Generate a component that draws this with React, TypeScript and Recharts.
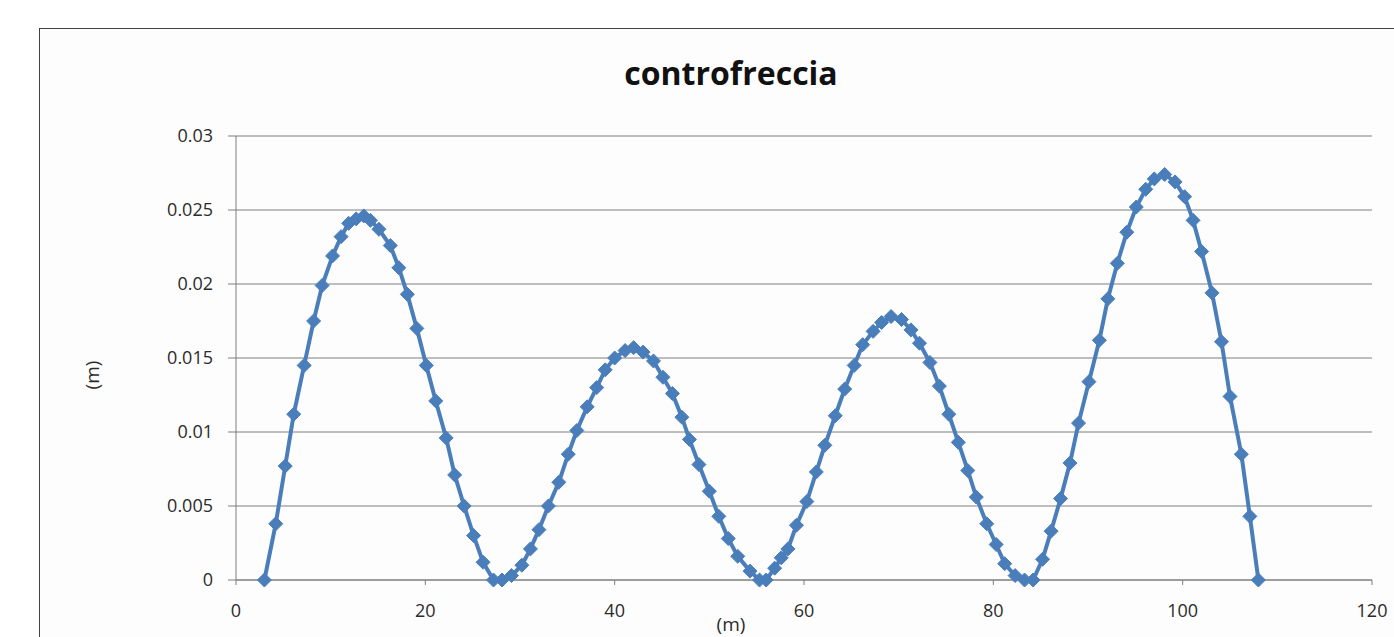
import { LineChart, Line, XAxis, YAxis, CartesianGrid } from 'recharts'

// ── Data ─────────────────────────────────────────────────────────────────────

const xPos = [
  3, 4.2, 5.2, 6.1, 7.2, 8.2, 9.1, 10.2, 11.1, 11.9, 12.7, 13.5, 14.2, 15.1, 16.3, 17.2, 18.1, 19.1, 20.1, 21.1, 22.2, 23.1, 24.1, 25.1, 26.1, 27.2,
  28.1, 29.1, 30.2, 31.1, 32.0, 33.0, 34.1, 35.1, 36.0, 37.1, 38.1, 39.0, 40.0, 41.1, 42.0, 43.0, 44.1, 45.1, 46.1, 47.1, 47.9, 48.9, 50.0, 51.0, 52.0, 53.0, 54.3, 55.3,
  56.0, 56.9, 57.6, 58.3, 59.2, 60.3, 61.3, 62.2, 63.3, 64.3, 65.3, 66.2, 67.3, 68.2, 69.2, 70.3, 71.3, 72.2, 73.3, 74.3, 75.3, 76.3, 77.3, 78.2, 79.3, 80.3, 81.2, 82.3, 83.3,
  84.2, 85.2, 86.1, 87.1, 88.1, 89.0, 90.1, 91.2, 92.1, 93.1, 94.1, 95.1, 96.1, 97.0, 98.1, 99.2, 100.2, 101.1, 102.0, 103.1, 104.1, 105.0, 106.2, 107.1, 108.0,
]

const deflection = [
  0, 0.0038, 0.0077, 0.0112, 0.0145, 0.0175, 0.0199, 0.0219, 0.0232, 0.0241, 0.0244, 0.0246, 0.0243, 0.0237, 0.0226, 0.0211, 0.0193, 0.017, 0.0145, 0.0121, 0.0096, 0.0071, 0.005, 0.003, 0.0012, 0,
  0, 0.0003, 0.001, 0.0021, 0.0034, 0.005, 0.0066, 0.0085, 0.0101, 0.0117, 0.013, 0.0142, 0.015, 0.0155, 0.0157, 0.0154, 0.0148, 0.0137, 0.0126, 0.011, 0.0095, 0.0078, 0.006, 0.0043, 0.0028, 0.0016, 0.0006, 0,
  0, 0.0008, 0.0015, 0.0021, 0.0037, 0.0053, 0.0073, 0.0091, 0.0111, 0.0129, 0.0145, 0.0159, 0.0168, 0.0174, 0.0178, 0.0176, 0.0169, 0.016, 0.0147, 0.0131, 0.0112, 0.0093, 0.0074, 0.0056, 0.0038, 0.0024, 0.0011, 0.0003, 0,
  0, 0.0014, 0.0033, 0.0055, 0.0079, 0.0106, 0.0134, 0.0162, 0.019, 0.0214, 0.0235, 0.0252, 0.0264, 0.0271, 0.0274, 0.0269, 0.0259, 0.0243, 0.0222, 0.0194, 0.0161, 0.0124, 0.0085, 0.0043, 0,
]

const xTicks = [0, 20, 40, 60, 80, 100, 120]
const yTicks = [0, 0.005, 0.01, 0.015, 0.02, 0.025, 0.03]

const data = xPos.map((x, i) => ({ x, y: deflection[i] }))

// ── Styles ───────────────────────────────────────────────────────────────────

const BLUE = '#4A7EBB'
const GRID = '#7f7f7f'
const FONT = '"Open Sans", "DejaVu Sans", sans-serif'
const tickStyle = { fill: '#2b2b2b', fontSize: 18, fontFamily: FONT }

function Diamond(props: { cx?: number; cy?: number; index?: number }) {
  const { cx, cy } = props
  if (cx == null || cy == null) return null
  const r = 7
  return (
    <polygon
      key={props.index}
      points={`${cx},${cy - r} ${cx + r},${cy} ${cx},${cy + r} ${cx - r},${cy}`}
      fill={BLUE}
      stroke={BLUE}
      strokeWidth={1}
    />
  )
}

export default function App() {
  return (
    <div style={{ position: 'absolute', left: 0, top: 0, width: 1394, height: 637, overflow: 'hidden', background: '#fff' }}>
      <div style={{ position: 'absolute', left: 39, top: 28, width: 1500, height: 800, border: '1.5px solid #404040', background: '#fdfdfd' }} />
      <div style={{ position: 'absolute', left: 0, top: 0 }}>
        <LineChart width={1394} height={637} data={data} margin={{ top: 136, right: 22, bottom: 17, left: 176 }}>
          <CartesianGrid stroke={GRID} vertical={false} />
          <XAxis
            type="number" dataKey="x" domain={[0, 120]} ticks={xTicks} height={40}
            axisLine={{ stroke: GRID }} tickLine={{ stroke: GRID }} tickSize={5} tickMargin={19}
            tick={tickStyle}
          />
          <YAxis
            type="number" domain={[0, 0.03]} ticks={yTicks} width={60}
            axisLine={{ stroke: GRID }} tickLine={{ stroke: GRID }} tickSize={8} tickMargin={15}
            tick={tickStyle}
          />
          <Line
            type="linear" dataKey="y" stroke={BLUE} strokeWidth={4}
            dot={<Diamond />} activeDot={false} isAnimationActive={false}
          />
        </LineChart>
      </div>
      <div style={{ position: 'absolute', left: 0, width: 1462, top: 51, textAlign: 'center', fontFamily: FONT, fontWeight: 700, fontSize: 32, color: '#111', lineHeight: '44px' }}>
        controfreccia
      </div>
      <div style={{ position: 'absolute', left: 0, width: 1462, top: 611, textAlign: 'center', fontFamily: FONT, fontSize: 19, color: '#2b2b2b', lineHeight: '26px' }}>
        (m)
      </div>
      <div style={{ position: 'absolute', left: 92, top: 375, transform: 'translate(-50%, -50%) rotate(-90deg)', fontFamily: FONT, fontSize: 19, color: '#2b2b2b', whiteSpace: 'nowrap' }}>
        (m)
      </div>
    </div>
  )
}
